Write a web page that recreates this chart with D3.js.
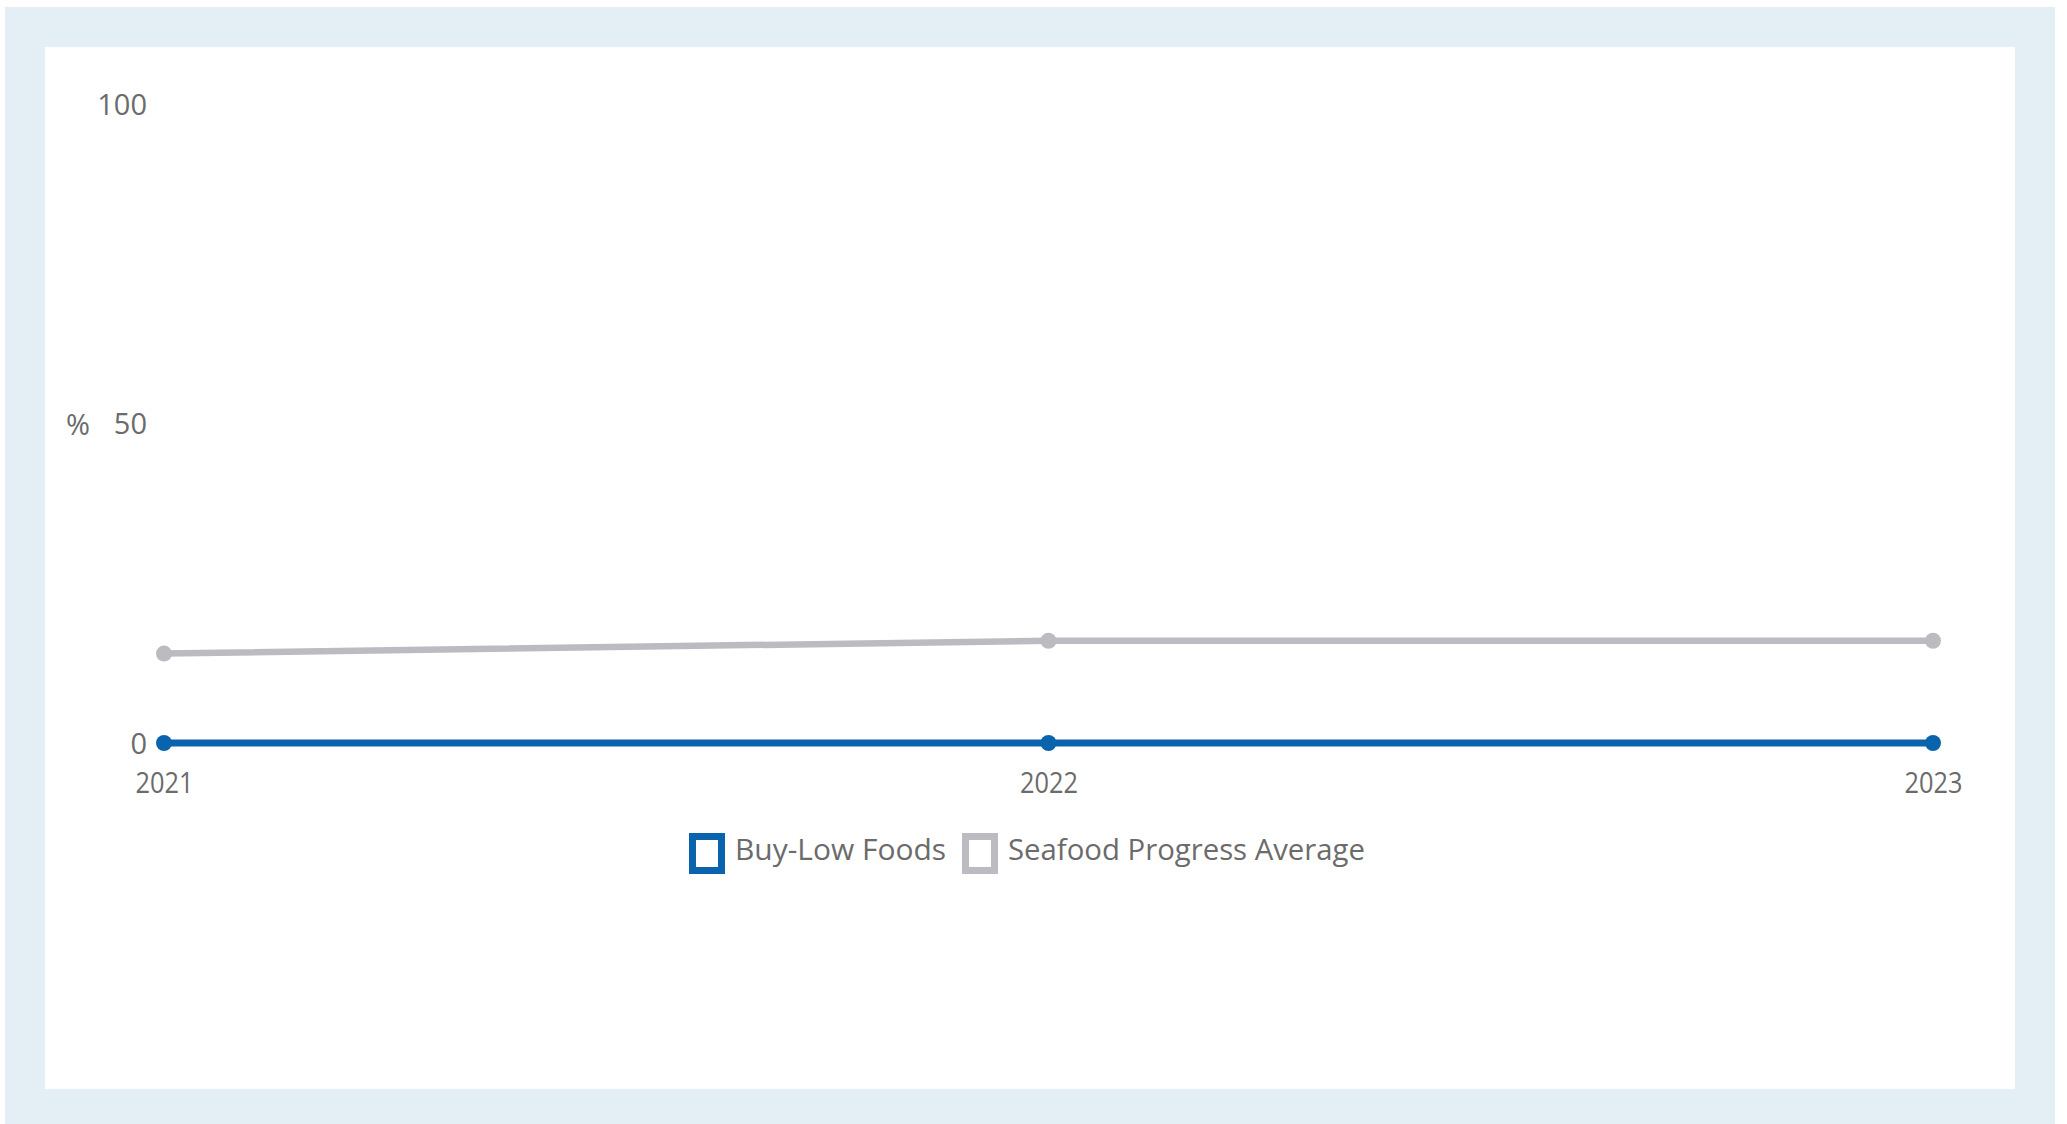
<!DOCTYPE html>
<html>
<head>
<meta charset="utf-8">
<script src="https://cdn.jsdelivr.net/npm/d3@7"></script>
<style>
  html, body { margin: 0; padding: 0; background: #ffffff; }
  svg { display: block; }
  text { font-family: "Open Sans", "Noto Sans", sans-serif; fill: #6b6b6b; }
</style>
</head>
<body>
<svg id="chart" width="2067" height="1124"></svg>
<script>
const years = [2021, 2022, 2023];
const buyLowFoods = [0, 0, 0];
const seafoodAverage = [14, 16, 16];
const yTicks = [0, 50, 100];
const seriesNames = ["Buy-Low Foods", "Seafood Progress Average"];
const seriesColors = ["#0a64ad", "#bcbbc1"];

const svg = d3.select("#chart");

// frame
svg.append("rect").attr("x", 5).attr("y", 7).attr("width", 2050).attr("height", 1117).attr("fill", "#e3eef5");
svg.append("rect").attr("x", 45).attr("y", 47).attr("width", 1970).attr("height", 1042).attr("fill", "#ffffff");

const x = d3.scalePoint().domain(years).range([164, 1933]);
const y = d3.scaleLinear().domain([0, 100]).range([743, 104]);

// y axis
const yAxis = svg.append("g").attr("transform", "translate(150,0)")
  .call(d3.axisLeft(y).tickValues(yTicks).tickSize(0).tickPadding(3).tickFormat(d3.format("d")));
yAxis.select(".domain").remove();
yAxis.selectAll("text").attr("font-size", 29).attr("font-family", null).attr("fill", "#6b6b6b")
  .attr("dy", "0.36em");

svg.append("text").attr("x", 78).attr("y", 425).attr("dy", "0.36em").attr("text-anchor", "middle")
  .attr("font-size", 29).text("%");

// x axis
const xAxis = svg.append("g").attr("transform", "translate(0,743)")
  .call(d3.axisBottom(x).tickSize(0).tickPadding(29).tickFormat(d3.format("d")));
xAxis.select(".domain").remove();
xAxis.selectAll("text").attr("font-size", 29).attr("font-family", null).attr("fill", "#6b6b6b")
  .attr("dy", "0.71em").attr("textLength", 58).attr("lengthAdjust", "spacingAndGlyphs");

// series
const series = [
  { name: seriesNames[1], values: seafoodAverage, color: seriesColors[1], width: 6.5 },
  { name: seriesNames[0], values: buyLowFoods, color: seriesColors[0], width: 7 }
];
const line = d3.line().x((d, i) => x(years[i])).y(d => y(d));
series.forEach(s => {
  svg.append("path").datum(s.values).attr("d", line).attr("fill", "none")
    .attr("stroke", s.color).attr("stroke-width", s.width).attr("stroke-linecap", "round");
  svg.append("g").selectAll("circle").data(s.values).join("circle")
    .attr("cx", (d, i) => x(years[i])).attr("cy", d => y(d)).attr("r", 8).attr("fill", s.color);
});

// legend
const legendItems = [
  { name: seriesNames[0], color: seriesColors[0], boxX: 689, textX: 735, len: 211 },
  { name: seriesNames[1], color: seriesColors[1], boxX: 962, textX: 1008, len: 357 }
];
legendItems.forEach(l => {
  svg.append("rect").attr("x", l.boxX + 3.5).attr("y", 836.5).attr("width", 29).attr("height", 34)
    .attr("fill", "#ffffff").attr("stroke", l.color).attr("stroke-width", 7);
  svg.append("text").attr("x", l.textX).attr("y", 860).attr("font-size", 30)
    .attr("textLength", l.len).attr("lengthAdjust", "spacingAndGlyphs").text(l.name);
});
</script>
</body>
</html>
